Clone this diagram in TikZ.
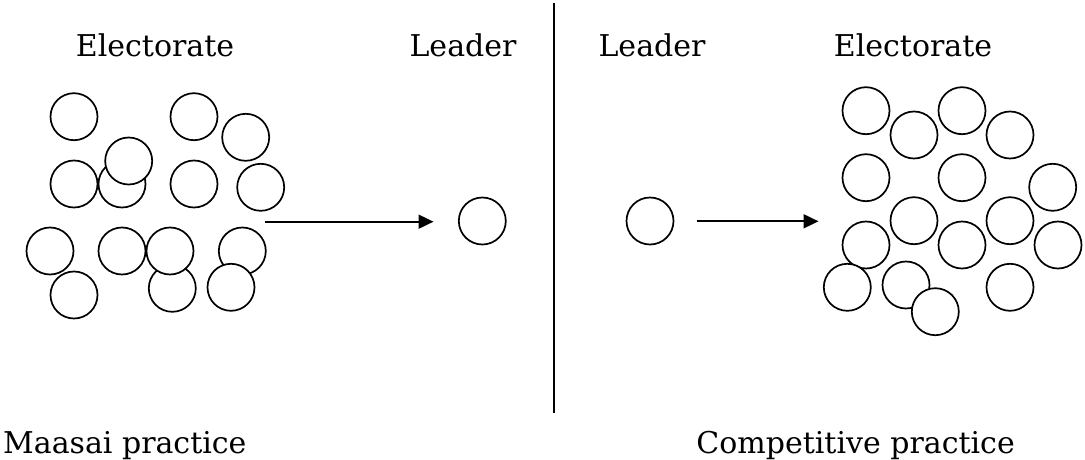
\documentclass[tikz,border=0pt]{standalone}
\usepackage{fontspec}
\setmainfont{DejaVu Serif}
\usetikzlibrary{arrows.meta}
\begin{document}
\begin{tikzpicture}[x=1pt,y=-1pt,
  person/.style={circle,draw=black,fill=white,line width=1.7pt,minimum size=47pt,inner sep=0pt},
  lbl/.style={font=\fontsize{30}{34}\selectfont,anchor=base,inner sep=0pt},
  link/.style={line width=1.9pt,-{Triangle[length=15pt,width=14pt]}}]
\useasboundingbox (0,0) rectangle (1085,460);
% labels
\node[lbl] (tEl) at (155,56.7) {Electorate};
\node[lbl] (tLl) at (463,56.7) {Leader};
\node[lbl] (tLr) at (652,56.7) {Leader};
\node[lbl] (tEr) at (913,56.7) {Electorate};
\node[lbl,anchor=base west] (tM) at (3,453) {Maasai practice};
\node[lbl,anchor=base east] (tC) at (1015,453) {Competitive practice};
% divider
\coordinate (d1) at (554,3);
\coordinate (d2) at (554,412.7);
\draw[line width=2pt] (d1) -- (d2);
% left electorate
\node[person] (l1) at (74,116.7) {};
\node[person] (l2) at (194,116.7) {};
\node[person] (l3) at (245.7,137.3) {};
\node[person] (l5) at (74,184) {};
\node[person] (l6) at (122,184) {};
\node[person] (l4) at (128.7,161) {};
\node[person] (l7) at (194,184) {};
\node[person] (l8) at (260.7,187.3) {};
\node[person] (l13) at (74,295) {};
\node[person] (l9) at (50,251) {};
\node[person] (l14) at (172.3,288.3) {};
\node[person] (l10) at (122,251) {};
\node[person] (l11) at (170,251) {};
\node[person] (l12) at (242.3,251) {};
\node[person] (l15) at (231,287.3) {};
% left leader
\node[person] (L1) at (482.3,221) {};
% right leader
\node[person] (L2) at (650,221) {};
% right electorate
\node[person] (r1) at (866,110.7) {};
\node[person] (r2) at (914,135) {};
\node[person] (r3) at (962,110.7) {};
\node[person] (r4) at (1010,135) {};
\node[person] (r5) at (866,177.7) {};
\node[person] (r6) at (962,177.7) {};
\node[person] (r7) at (1052.7,187.3) {};
\node[person] (r10) at (866,245) {};
\node[person] (r8) at (914,220.7) {};
\node[person] (r9) at (1010,220.7) {};
\node[person] (r11) at (962,245) {};
\node[person] (r12) at (1058,245) {};
\node[person] (r13) at (847.3,287.3) {};
\node[person] (r14) at (906,285) {};
\node[person] (r15) at (935.3,311.7) {};
\node[person] (r16) at (1010,287.3) {};
% arrows
\coordinate (a1s) at (265,221.7);
\coordinate (a1e) at (433.5,221.7);
\coordinate (a2s) at (696.7,221.3);
\coordinate (a2e) at (818.5,221.3);
\draw[link] (a1s) -- (a1e);
\draw[link] (a2s) -- (a2e);
\end{tikzpicture}
\end{document}
